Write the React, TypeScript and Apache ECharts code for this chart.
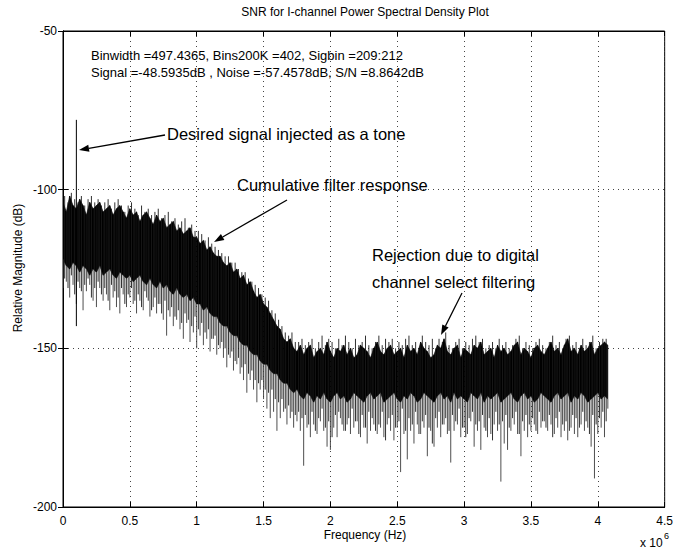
import React, { useEffect, useRef } from "react";
import * as echarts from "echarts";

// Frequency bins in units of 10^6 Hz
const freqMHz = [
  0, 0.025, 0.05, 0.075, 0.1, 0.125, 0.15, 0.175, 0.2, 0.225, 0.25, 0.275, 0.3, 0.325, 0.35, 0.375, 0.4, 0.425, 0.45, 0.475,
  0.5, 0.525, 0.55, 0.575, 0.6, 0.625, 0.65, 0.675, 0.7, 0.725, 0.75, 0.775, 0.8, 0.825, 0.85, 0.875, 0.9, 0.925, 0.95, 0.975,
  1.0, 1.025, 1.05, 1.075, 1.1, 1.125, 1.15, 1.175, 1.2, 1.225, 1.25, 1.275, 1.3, 1.325, 1.35, 1.375, 1.4, 1.425, 1.45, 1.475,
  1.5, 1.525, 1.55, 1.575, 1.6, 1.625, 1.65, 1.675, 1.7, 1.725, 1.75, 1.775, 1.8, 1.825, 1.85, 1.875, 1.9, 1.925, 1.95, 1.975,
  2.0, 2.025, 2.05, 2.075, 2.1, 2.125, 2.15, 2.175, 2.2, 2.225, 2.25, 2.275, 2.3, 2.325, 2.35, 2.375, 2.4, 2.425, 2.45, 2.475,
  2.5, 2.525, 2.55, 2.575, 2.6, 2.625, 2.65, 2.675, 2.7, 2.725, 2.75, 2.775, 2.8, 2.825, 2.85, 2.875, 2.9, 2.925, 2.95, 2.975,
  3.0, 3.025, 3.05, 3.075, 3.1, 3.125, 3.15, 3.175, 3.2, 3.225, 3.25, 3.275, 3.3, 3.325, 3.35, 3.375, 3.4, 3.425, 3.45, 3.475,
  3.5, 3.525, 3.55, 3.575, 3.6, 3.625, 3.65, 3.675, 3.7, 3.725, 3.75, 3.775, 3.8, 3.825, 3.85, 3.875, 3.9, 3.925, 3.95, 3.975,
  4.0, 4.025, 4.05, 4.075,
];

// Upper edge of the dense noise band, dB
const peakDb = [
  -104, -107, -102, -105, -106, -103, -105, -108, -104, -106, -105, -104, -107, -106, -105, -108, -106, -105, -107, -109,
  -106, -108, -107, -110, -108, -107, -109, -111, -108, -110, -109, -112, -111, -110, -113, -112, -114, -113, -112, -115,
  -115, -117, -116, -119, -118, -120, -121, -121, -123, -124, -123, -126, -125, -128, -127, -130, -129, -132, -134, -133,
  -136, -137, -139, -141, -143, -144, -147, -148, -147, -150, -151, -149, -152, -150, -149, -153, -151, -150, -152, -148,
  -151, -153, -150, -151, -149, -152, -150, -153, -152, -149, -150, -151, -153, -150, -148, -151, -152, -150, -149, -152,
  -151, -150, -153, -149, -151, -150, -152, -148, -150, -151, -153, -152, -149, -150, -147, -151, -152, -150, -149, -153,
  -150, -151, -152, -149, -150, -148, -152, -151, -150, -153, -149, -151, -150, -152, -151, -149, -148, -152, -150, -151,
  -153, -150, -149, -151, -152, -150, -148, -151, -150, -152, -149, -147, -151, -150, -152, -149, -151, -150, -148, -152,
  -150, -149, -148, -149,
];

// Lower edge of the solid part of the band, dB
const floorDb = [
  -122, -124, -125, -123, -124, -126, -124, -125, -127, -125, -126, -124, -127, -126, -125, -127, -128, -126, -127, -128,
  -127, -129, -128, -127, -129, -130, -128, -130, -131, -129, -131, -130, -132, -133, -131, -133, -134, -133, -135, -134,
  -136, -136, -138, -137, -139, -140, -140, -142, -143, -143, -145, -146, -146, -148, -149, -149, -151, -152, -152, -154,
  -155, -155, -157, -158, -158, -160, -161, -161, -163, -164, -163, -165, -166, -164, -165, -167, -165, -166, -164, -166,
  -167, -165, -164, -166, -165, -167, -166, -164, -165, -166, -167, -165, -164, -166, -165, -164, -167, -166, -165, -164,
  -166, -167, -165, -166, -164, -165, -167, -166, -164, -165, -166, -167, -165, -164, -166, -165, -167, -164, -166, -165,
  -166, -167, -164, -165, -166, -164, -167, -165, -166, -165, -164, -167, -166, -165, -164, -166, -167, -165, -164, -166,
  -165, -167, -166, -164, -165, -166, -167, -165, -164, -166, -165, -164, -167, -165, -166, -164, -165, -167, -166, -165,
  -164, -166, -165, -166,
];

// Deepest downward spike at each bin, dB
const spikeDb = [
  -131, -129, -134, -130, -136, -131, -138, -132, -130, -135, -137, -131, -135, -133, -138, -134, -137, -139, -133, -137,
  -134, -136, -139, -135, -138, -134, -140, -137, -139, -136, -141, -146, -140, -143, -141, -144, -147, -142, -148, -145,
  -150, -146, -149, -147, -151, -147, -152, -150, -153, -156, -153, -157, -155, -158, -160, -164, -160, -163, -167, -163,
  -166, -169, -172, -170, -176, -172, -170, -174, -172, -175, -173, -176, -187, -175, -178, -174, -177, -173, -176, -181,
  -182, -175, -178, -172, -176, -174, -177, -175, -173, -178, -175, -180, -176, -174, -177, -175, -178, -174, -176, -179,
  -175, -189, -177, -185, -176, -180, -174, -177, -175, -184, -176, -181, -175, -178, -174, -177, -186, -176, -174, -178,
  -175, -177, -173, -181, -176, -182, -175, -178, -177, -174, -176, -192, -180, -182, -176, -174, -177, -184, -176, -178,
  -176, -174, -177, -175, -173, -176, -174, -177, -175, -178, -176, -179, -175, -177, -178, -174, -176, -175, -181, -191,
  -177, -175, -178, -169,
];

// Hairline between bins: upper tip and lower tip, dB
const midPeakDb = [
  -102, -104, -101, -103, -104, -102, -105, -103, -102, -104, -103, -105, -104, -103, -106, -104, -103, -105, -107, -105,
  -104, -106, -108, -105, -107, -106, -108, -107, -106, -109, -108, -107, -110, -109, -111, -110, -109, -112, -111, -113,
  -113, -114, -116, -115, -117, -118, -119, -120, -121, -121, -123, -123, -125, -126, -126, -128, -129, -130, -131, -133,
  -134, -135, -138, -139, -141, -143, -145, -146, -145, -148, -148, -147, -149, -148, -147, -150, -148, -146, -149, -147,
  -148, -150, -147, -149, -146, -148, -150, -147, -149, -148, -146, -149, -150, -148, -146, -149, -147, -148, -147, -150,
  -148, -149, -147, -146, -149, -148, -150, -146, -148, -149, -147, -150, -147, -148, -145, -149, -150, -148, -147, -150,
  -148, -149, -147, -146, -148, -147, -150, -149, -148, -150, -147, -149, -148, -150, -149, -147, -146, -150, -148, -149,
  -150, -148, -147, -149, -150, -148, -146, -149, -148, -150, -147, -146, -149, -148, -150, -147, -149, -148, -146, -150,
  -148, -147, -147, -148,
];

const midSpikeDb = [
  -128, -131, -127, -133, -129, -132, -130, -128, -134, -131, -129, -133, -131, -135, -130, -132, -134, -131, -136, -133,
  -131, -135, -133, -137, -132, -135, -138, -134, -136, -139, -135, -138, -137, -140, -138, -142, -139, -141, -143, -140,
  -144, -142, -145, -144, -147, -146, -149, -148, -150, -152, -151, -154, -153, -156, -155, -158, -157, -160, -161, -160,
  -163, -164, -163, -166, -167, -166, -169, -168, -170, -171, -170, -172, -171, -174, -170, -176, -172, -169, -175, -173,
  -178, -171, -170, -174, -176, -172, -169, -173, -177, -171, -175, -170, -172, -176, -174, -170, -179, -172, -171, -175,
  -173, -169, -176, -172, -174, -170, -177, -173, -171, -175, -180, -172, -170, -174, -172, -176, -171, -173, -169, -175,
  -178, -172, -170, -174, -173, -171, -176, -172, -179, -170, -174, -173, -171, -175, -172, -170, -177, -173, -171, -174,
  -172, -176, -170, -173, -175, -171, -178, -172, -170, -174, -173, -176, -171, -172, -175, -170, -173, -177, -171, -174,
  -172, -170, -173, -168,
];

// Injected tone
const toneFreq = [0.1];
const toneTop = [-78];
const toneBottom = [-143];

const xTicks = [0, 0.5, 1, 1.5, 2, 2.5, 3, 3.5, 4, 4.5];
const yTicks = [-200, -150, -100, -50];

const FONT = "'Liberation Sans', Arial, Helvetica, sans-serif";

function arrow(x1: number, y1: number, x2: number, y2: number) {
  const dx = x2 - x1;
  const dy = y2 - y1;
  const len = Math.sqrt(dx * dx + dy * dy);
  const ux = dx / len;
  const uy = dy / len;
  const hl = 10;
  const hw = 3.5;
  const bx = x2 - ux * hl;
  const by = y2 - uy * hl;
  return [
    {
      type: "line",
      shape: { x1, y1, x2: bx, y2: by },
      style: { stroke: "#000", lineWidth: 1.3 },
    },
    {
      type: "polygon",
      shape: {
        points: [
          [x2, y2],
          [bx - uy * hw, by + ux * hw],
          [bx + uy * hw, by - ux * hw],
        ],
      },
      style: { fill: "#000" },
    },
  ];
}

function txt(x: number, y: number, text: string, size: number, align = "left", extra: any = {}) {
  return {
    type: "text",
    x,
    y,
    ...extra,
    style: {
      text,
      fontSize: size,
      fontFamily: FONT,
      fill: "#000",
      align,
      verticalAlign: "middle",
    },
  };
}

export default function App() {
  const ref = useRef<HTMLDivElement>(null);

  useEffect(() => {
    if (!ref.current) return;
    const chart = echarts.init(ref.current, undefined, { renderer: "svg" });

    const bandData = freqMHz.map((f, i) => [f, peakDb[i], floorDb[i], spikeDb[i], midPeakDb[i], midSpikeDb[i]]);
    const toneData = toneFreq.map((f, i) => [f, toneTop[i], toneBottom[i]]);

    const axisCommon = {
      type: "value",
      axisLine: { show: true, lineStyle: { color: "#000", width: 1 } },
      axisTick: { show: true, inside: true, length: 5, lineStyle: { color: "#000" } },
    };

    const option: any = {
      animation: false,
      backgroundColor: "#fff",
      textStyle: { fontFamily: FONT },
      grid: {
        left: 63,
        right: 9,
        top: 31,
        bottom: 42,
        show: true,
        borderColor: "#000",
        borderWidth: 1,
        backgroundColor: "transparent",
      },
      xAxis: [
        {
          ...axisCommon,
          position: "bottom",
          min: xTicks[0],
          max: xTicks[xTicks.length - 1],
          interval: 0.5,
          axisLabel: { color: "#000", fontSize: 12, fontFamily: FONT, margin: 8 },
          splitLine: { show: true, lineStyle: { color: "#444", type: [1, 4], width: 1 } },
        },
        {
          ...axisCommon,
          position: "top",
          min: xTicks[0],
          max: xTicks[xTicks.length - 1],
          interval: 0.5,
          axisLabel: { show: false },
          splitLine: { show: false },
        },
      ],
      yAxis: [
        {
          ...axisCommon,
          position: "left",
          min: yTicks[0],
          max: yTicks[yTicks.length - 1],
          interval: 50,
          axisLabel: { color: "#000", fontSize: 12, fontFamily: FONT, margin: 6 },
          splitLine: { show: true, lineStyle: { color: "#444", type: [1, 4], width: 1 } },
        },
        {
          ...axisCommon,
          position: "right",
          min: yTicks[0],
          max: yTicks[yTicks.length - 1],
          interval: 50,
          axisLabel: { show: false },
          splitLine: { show: false },
        },
      ],
      series: [
        {
          type: "custom",
          xAxisIndex: 0,
          yAxisIndex: 0,
          clip: true,
          data: bandData,
          encode: { x: 0, y: [1, 2, 3, 4, 5] },
          renderItem: (params: any, api: any) => {
            const i = params.dataIndex;
            const children: any[] = [];
            if (i < freqMHz.length - 1) {
              const p1 = api.coord([freqMHz[i], peakDb[i]]);
              const p2 = api.coord([freqMHz[i + 1], peakDb[i + 1]]);
              const p3 = api.coord([freqMHz[i + 1], floorDb[i + 1]]);
              const p4 = api.coord([freqMHz[i], floorDb[i]]);
              children.push({
                type: "polygon",
                shape: { points: [p1, p2, p3, p4] },
                style: { fill: "#000", stroke: "#000", lineWidth: 0.6 },
              });
              const fm = (freqMHz[i] + freqMHz[i + 1]) / 2;
              const m1 = api.coord([fm, midPeakDb[i]]);
              const m2 = api.coord([fm, midSpikeDb[i]]);
              children.push({
                type: "line",
                shape: { x1: m1[0], y1: m1[1], x2: m2[0], y2: m2[1] },
                style: { stroke: "#1a1a1a", lineWidth: 0.9 },
              });
            }
            const s1 = api.coord([freqMHz[i], floorDb[i]]);
            const s2 = api.coord([freqMHz[i], spikeDb[i]]);
            children.push({
              type: "line",
              shape: { x1: s1[0], y1: s1[1], x2: s2[0], y2: s2[1] },
              style: { stroke: "#3a3a3a", lineWidth: 0.9 },
            });
            return { type: "group", children };
          },
        },
        {
          type: "custom",
          xAxisIndex: 0,
          yAxisIndex: 0,
          data: toneData,
          encode: { x: 0, y: [1, 2] },
          renderItem: (params: any, api: any) => {
            const a = api.coord([api.value(0), api.value(1)]);
            const b = api.coord([api.value(0), api.value(2)]);
            return {
              type: "line",
              shape: { x1: a[0], y1: a[1], x2: b[0], y2: b[1] },
              style: { stroke: "#000", lineWidth: 1 },
            };
          },
        },
      ],
      graphic: [
        txt(365, 12, "SNR for I-channel Power Spectral Density Plot", 12, "center"),
        txt(91, 55, "Binwidth =497.4365, Bins200K =402, Sigbin =209:212", 13),
        txt(91, 72, "Signal =-48.5935dB , Noise =-57.4578dB, S/N =8.8642dB", 13),
        txt(167, 134, "Desired signal injected as a tone", 16.5),
        txt(237, 185, "Cumulative filter response", 16.5),
        txt(372, 255, "Rejection due to digital", 16.5),
        txt(372, 282, "channel select filtering", 16.5),
        txt(18, 268, "Relative Magnitude (dB)", 12, "center", { rotation: Math.PI / 2 }),
        txt(365, 535, "Frequency (Hz)", 12, "center"),
        txt(640, 543, "x 10", 12),
        txt(664, 536, "6", 9),
        ...arrow(165, 135, 79, 150),
        ...arrow(287, 200, 214, 242),
        ...arrow(462, 293, 441, 335),
      ],
    };

    chart.setOption(option);
    return () => chart.dispose();
  }, []);

  return (
    <div
      ref={ref}
      style={{ position: "fixed", left: 0, top: 0, width: 676, height: 549, background: "#fff" }}
    />
  );
}
